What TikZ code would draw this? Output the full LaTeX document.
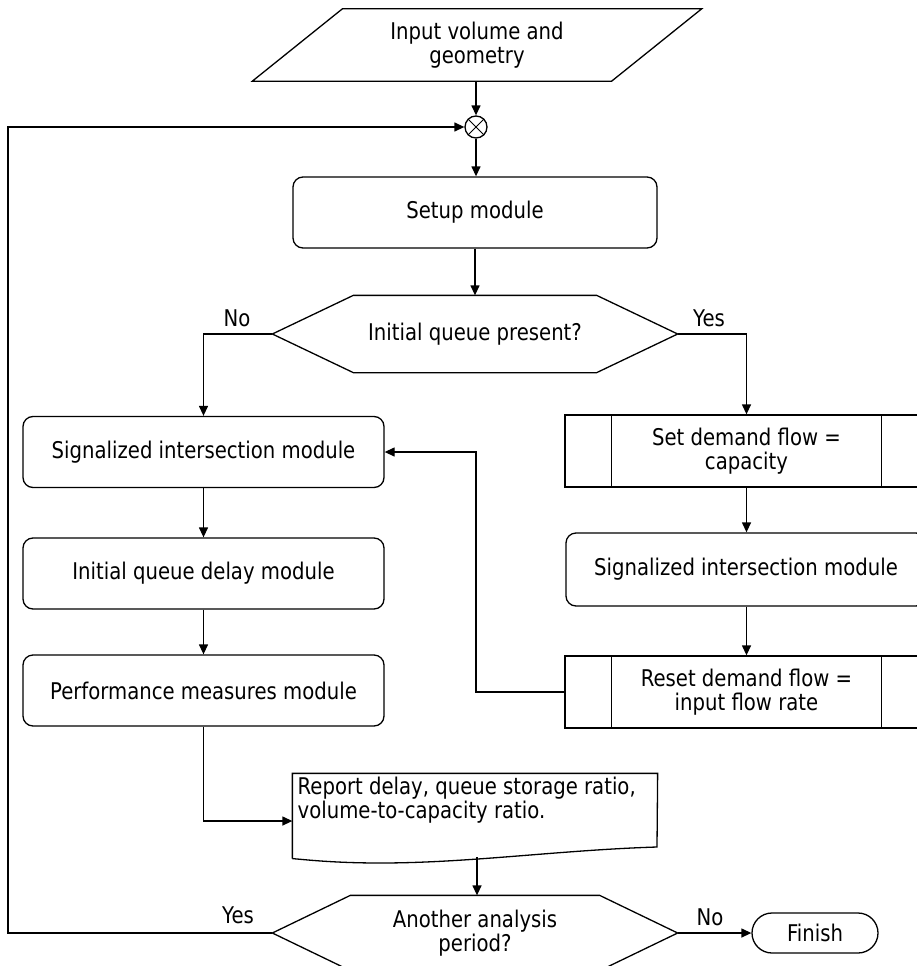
\documentclass[tikz,border=0pt]{standalone}
\usepackage{fontspec}
\setmainfont{DejaVu Sans}[FakeStretch=0.855]
\usetikzlibrary{arrows.meta,calc}
\begin{document}
\begin{tikzpicture}[x=1pt,y=-1pt,line width=1.3pt,
  every node/.style={font=\fontsize{23}{24}\selectfont, inner sep=0pt},
  arr/.style={-{Triangle[length=10pt,width=9pt]}},
  proc/.style={draw, rounded corners=10pt, minimum width=361pt, minimum height=71pt, align=center},
  subbox/.style={draw, minimum width=363pt, minimum height=72pt, align=center},
  lbl/.style={anchor=base},
]
\useasboundingbox (0,0) rectangle (917,966);
\clip (0,0) rectangle (917,966);

% input parallelogram
\node[minimum width=448pt, minimum height=71pt, align=center] (inp) at (477,45) {Input volume and\\geometry};
\draw (inp.south west) -- ([xshift=90pt]inp.north west) -- (inp.north east) -- ([xshift=-90pt]inp.south east) -- cycle;

% summing junction
\node[draw, circle, minimum size=22pt] (sum) at (476,127) {};
\draw[line width=1pt] (sum.north west) -- (sum.south east) (sum.north east) -- (sum.south west);

% setup
\node[proc, minimum width=364pt] (setup) at (475,212.5) {Setup module};

% decision 1
\node[minimum width=404pt, minimum height=76pt, align=center] (q1) at (475,334) {Initial queue present?};
\draw (q1.west) -- ([xshift=81pt]q1.north west) -- ([xshift=-81pt]q1.north east) -- (q1.east) -- ([xshift=-81pt]q1.south east) -- ([xshift=81pt]q1.south west) -- cycle;

% left column
\node[proc] (sig1) at (203.5,452) {Signalized intersection module};
\node[proc] (iq) at (203.5,573.5) {Initial queue delay module};
\node[proc] (perf) at (203.5,690.5) {Performance measures module};

% right column
\node[subbox] (set) at (746.5,451) {Set demand flow =\\capacity};
\draw ([xshift=47pt]set.north west) -- ([xshift=47pt]set.south west);
\draw ([xshift=-47pt]set.north east) -- ([xshift=-47pt]set.south east);
\node[proc, minimum width=360pt, minimum height=73pt] (sig2) at (746,569.5) {Signalized intersection module};
\node[subbox] (reset) at (746.5,692) {Reset demand flow =\\input flow rate};
\draw ([xshift=47pt]reset.north west) -- ([xshift=47pt]reset.south west);
\draw ([xshift=-47pt]reset.north east) -- ([xshift=-47pt]reset.south east);

% report document
\node[minimum width=364pt, minimum height=84pt] (rep) at (475,816) {};
\node[anchor=base west, align=left] (reptext) at (297,818) {Report delay, queue storage ratio,\\volume-to-capacity ratio.};
\draw (rep.south west) -- (rep.north west) -- (rep.north east) -- (657,847)
  .. controls (560,850) and (470,863) .. (380,863)
  .. controls (330,863) and (300,859) .. (rep.south west);
\coordinate (repbot) at (477,857);

% decision 2
\node[minimum width=404pt, minimum height=74pt, align=center] (q2) at (475,933) {Another analysis\\period?};
\draw (q2.west) -- ([xshift=78pt]q2.north west) -- ([xshift=-78pt]q2.north east) -- (q2.east) -- ([xshift=-78pt]q2.south east) -- ([xshift=78pt]q2.south west) -- cycle;

% finish
\node[draw, rounded corners=20pt, minimum width=126pt, minimum height=40pt] (fin) at (815,933) {Finish};

% connectors
\draw[arr] (inp.south -| sum) -- (sum.north);
\draw[arr] (sum.south) -- (sum.south |- setup.north);
\draw[arr] (setup.south) -- (setup.south |- q1.north);
\draw[arr] (q1.west) -| (sig1.north);
\draw[arr] (q1.east) -| (set.north);
\draw[arr] (sig1.south) -- (iq.north);
\draw[arr] (iq.south) -- (perf.north);
\draw[arr] (set.south) -- (set.south |- sig2.north);
\draw[arr] (sig2.south -| reset.north) -- (reset.north);
\coordinate (bend) at (476,452);
\draw[arr] (reset.west) -| (bend) -- (sig1.east);
\draw[arr] (perf.south) |- ([yshift=-5pt]rep.west);
\draw[arr] (repbot) -- (repbot |- q2.north);
\draw[arr] (q2.east) -- (fin.west);
\coordinate (loopc) at (8,933);
\draw[arr] (q2.west) -- (loopc) |- (sum.west);

% labels
\node[lbl] at (237,326) {No};
\node[lbl] at (709,326) {Yes};
\node[lbl] at (238,923) {Yes};
\node[lbl] at (710,925) {No};
\end{tikzpicture}
\end{document}
